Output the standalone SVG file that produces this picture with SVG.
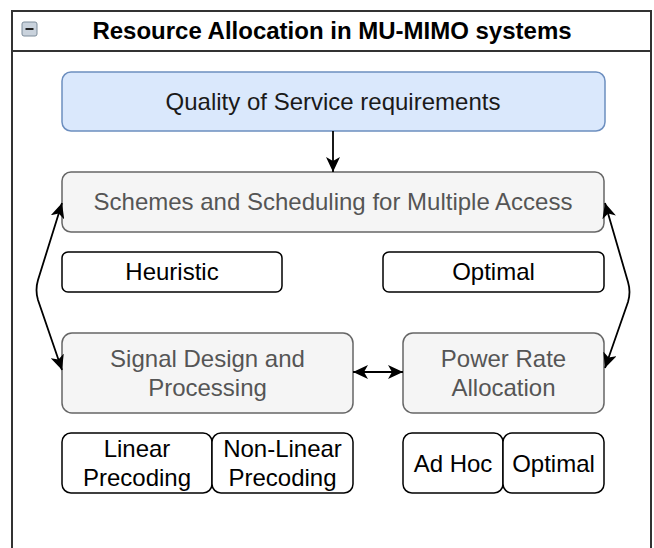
<svg xmlns="http://www.w3.org/2000/svg" width="654" height="548" viewBox="0 0 654 548">
<style>
  text { font-family: "Liberation Sans", Arial, sans-serif; font-size: 24px; text-anchor: middle; }
  .title { font-weight: bold; fill: #000; }
  .blue { fill: #dae8fc; stroke: #6c8ebf; stroke-width: 1.5; }
  .gray { fill: #f5f5f5; stroke: #666666; stroke-width: 1.5; }
  .white { fill: #ffffff; stroke: #000000; stroke-width: 1.5; }
  .tdark { fill: #1a1a1a; }
  .tgray { fill: #555555; }
  .tblack { fill: #000000; }
  .conn { fill: none; stroke: #000; stroke-width: 1.8; }
</style>
<defs>
  <marker id="arr" markerUnits="userSpaceOnUse" markerWidth="16" markerHeight="14" refX="15" refY="7" orient="auto-start-reverse">
    <path d="M0,0 L15,7 L0,14 L4,7 Z" fill="#000"/>
  </marker>
</defs>
<rect width="654" height="548" fill="#ffffff"/>
<g id="container">
  <rect x="12" y="11" width="639" height="580" fill="#ffffff" stroke="#333333" stroke-width="2"/>
  <line x1="12" y1="51" x2="651" y2="51" stroke="#333333" stroke-width="2"/>
  <rect x="22" y="22" width="15" height="14" rx="2" fill="#c9d2dc" stroke="#7d8c9a" stroke-width="1"/>
  <line x1="25.5" y1="29" x2="33.5" y2="29" stroke="#222" stroke-width="2"/>
  <text class="title" x="332" y="39">Resource Allocation in MU-MIMO systems</text>
</g>
<g id="qos">
  <rect class="blue" x="62" y="72" width="543" height="59" rx="9"/>
  <text class="tdark" x="333" y="110">Quality of Service requirements</text>
</g>
<g id="schemes">
  <rect class="gray" x="62" y="172" width="542" height="60" rx="9"/>
  <text class="tgray" x="333" y="210">Schemes and Scheduling for Multiple Access</text>
</g>
<g id="heuristic">
  <rect class="white" x="62" y="252" width="220" height="40" rx="6"/>
  <text class="tblack" x="172" y="280">Heuristic</text>
</g>
<g id="optimal1">
  <rect class="white" x="383" y="252" width="221" height="40" rx="6"/>
  <text class="tblack" x="493.5" y="280">Optimal</text>
</g>
<g id="signal">
  <rect class="gray" x="62" y="333" width="291" height="80" rx="10"/>
  <text class="tgray" x="207.5" y="367">Signal Design and</text>
  <text class="tgray" x="207.5" y="396">Processing</text>
</g>
<g id="power">
  <rect class="gray" x="403" y="333" width="201" height="80" rx="10"/>
  <text class="tgray" x="503.5" y="367">Power Rate</text>
  <text class="tgray" x="503.5" y="396">Allocation</text>
</g>
<g id="linear">
  <rect class="white" x="62" y="433" width="150" height="60" rx="9"/>
  <text class="tblack" x="137" y="457">Linear</text>
  <text class="tblack" x="137" y="486">Precoding</text>
</g>
<g id="nonlinear">
  <rect class="white" x="212" y="433" width="141" height="60" rx="9"/>
  <text class="tblack" x="282.5" y="457">Non-Linear</text>
  <text class="tblack" x="282.5" y="486">Precoding</text>
</g>
<g id="adhoc">
  <rect class="white" x="403" y="433" width="100" height="60" rx="9"/>
  <text class="tblack" x="453" y="472">Ad Hoc</text>
</g>
<g id="optimal2">
  <rect class="white" x="503" y="433" width="101" height="60" rx="9"/>
  <text class="tblack" x="553.5" y="472">Optimal</text>
</g>
<g id="connectors">
  <path class="conn" d="M333,131 L333,172" marker-end="url(#arr)"/>
  <path class="conn" d="M62,203 L38,280 Q35,290 38,300 L62,370" marker-start="url(#arr)" marker-end="url(#arr)"/>
  <path class="conn" d="M605,203 L628,282 Q631,292 628,302 L605,368" marker-start="url(#arr)" marker-end="url(#arr)"/>
  <path class="conn" d="M353,372 L403,372" marker-start="url(#arr)" marker-end="url(#arr)"/>
</g>
</svg>
